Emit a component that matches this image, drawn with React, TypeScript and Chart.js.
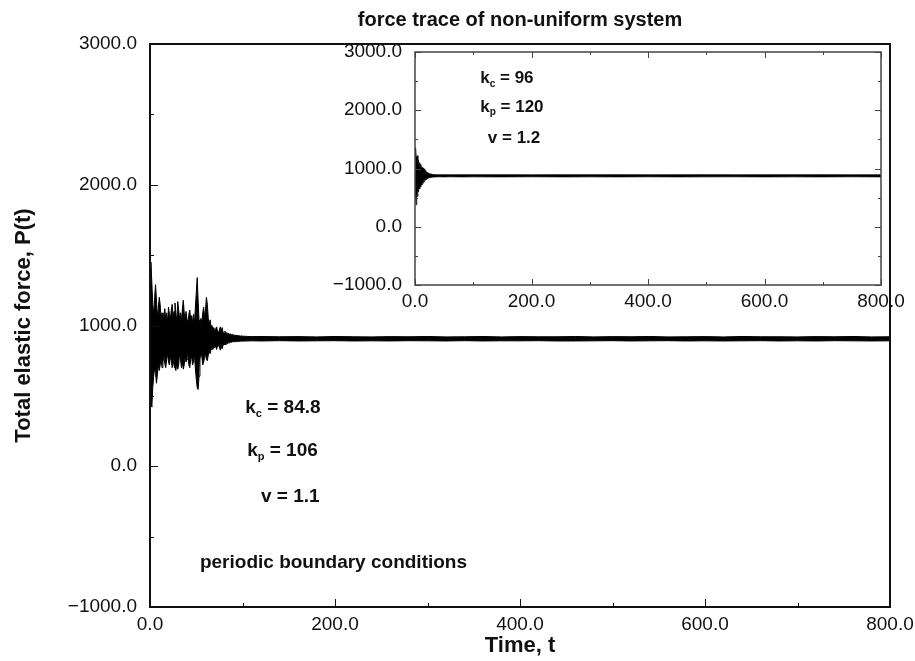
import React, { useEffect, useRef } from "react";
import { Chart, registerables } from "chart.js";

Chart.register(...registerables);

// ---------------- data ----------------
const mainTime = [
  0, 1, 2, 3, 4, 5, 6, 7, 8, 9, 10, 11, 12, 13, 14, 15, 16, 17, 18, 19, 20,
  21, 22, 23, 24, 25, 26, 27, 28, 29, 30, 31, 32, 33, 34, 35, 36, 37, 38, 39, 40,
  41, 42, 43, 44, 45, 46, 47, 48, 49, 50, 51, 52, 53, 54, 55, 56, 57, 58, 59, 60,
  61, 62, 63, 64, 65, 66, 67, 68, 69, 70, 71, 72, 73, 74, 75, 76, 77, 78, 79, 80,
  81, 82, 83, 84, 85, 86, 87, 88, 89, 90, 91, 92, 93, 94, 95, 96, 97, 98, 99, 100,
  110, 120, 140, 160, 180, 200, 220, 240, 260, 280, 300, 320, 340, 360, 380, 400,
  420, 440, 460, 480, 500, 520, 540, 560, 580, 600, 620, 640, 660, 680, 700, 720,
  740, 760, 780, 800,
];
// upper envelope of the main force trace P(t)
const mainUpper = [
  1100, 1450, 1300, 1150, 1080, 1200, 1290, 1180, 1060, 1120, 1200,
  1150, 1050, 1090, 1010, 1070, 1120, 1040, 1090, 1020, 1130,
  1080, 1040, 1110, 1150, 1060, 1100, 1160, 1080, 1040, 1170,
  1110, 1050, 1090, 1030, 1120, 1180, 1090, 1050, 1100, 1040,
  1010, 1080, 1110, 1040, 1070, 1020, 1080, 1010, 1120, 1230,
  1340, 1180, 1040, 1000, 1050, 1020, 1090, 1130, 1060, 1110,
  1200, 1150, 1050, 1010, 1040, 990, 1000, 970, 985, 960,
  975, 990, 960, 945, 970, 990, 960, 985, 950, 945,
  960, 940, 950, 938, 945, 935, 942, 932, 938, 930,
  935, 928, 932, 926, 930, 925, 928, 924, 927, 924,
  921, 922, 920, 921, 919, 922, 920, 919, 921, 920, 922, 919, 920, 922, 919, 921,
  920, 920, 922, 919, 921, 920, 922, 919, 920, 921, 919, 922, 920, 920, 919, 921,
  920, 922, 919, 920,
];
// lower envelope of the main force trace P(t)
const mainLower = [
  880, 480, 420, 560, 640, 700, 660, 590, 650, 720, 680,
  720, 760, 700, 740, 790, 730, 700, 760, 800, 740,
  720, 780, 750, 700, 720, 770, 700, 680, 740, 690,
  720, 800, 760, 700, 740, 690, 720, 780, 740, 760,
  800, 720, 700, 760, 780, 720, 740, 800, 700, 620,
  560, 545, 640, 760, 800, 780, 720, 740, 770, 800,
  760, 750, 790, 820, 800, 830, 840, 830, 850, 840,
  860, 830, 855, 860, 845, 825, 850, 835, 860, 865,
  870, 862, 875, 870, 880, 876, 882, 880, 884, 885,
  884, 887, 885, 888, 886, 888, 887, 889, 888, 889,
  891, 890, 892, 890, 891, 892, 890, 891, 890, 892, 891, 890, 892, 890, 891, 891,
  892, 890, 890, 891, 892, 890, 891, 892, 890, 891, 890, 891, 892, 890, 891, 890,
  892, 891, 890, 891,
];

const insetTime = [
  0, 1, 2, 3, 4, 5, 6, 7, 8, 9, 10, 11, 12, 13, 14, 15, 16, 17, 18, 19, 20,
  21, 22, 23, 24, 25, 26, 27, 28, 29, 30,
  35, 40, 50, 60, 80, 100, 150, 200, 250, 300, 350, 400, 450, 500, 550, 600,
  650, 700, 750, 800,
];
const insetUpper = [
  1000, 1355, 1200, 1150, 1220, 1120, 1140, 1060, 1100, 1040, 1070,
  1010, 1030, 990, 1010, 970, 985, 950, 965, 935, 945,
  925, 932, 915, 920, 905, 910, 900, 903, 897, 898,
  893, 892, 893, 891, 893, 892, 893, 891, 893, 892, 893, 891, 892, 893, 891, 892,
  892, 893, 891, 892,
];
const insetLower = [
  800, 500, 377, 560, 520, 630, 600, 680, 650, 710, 690,
  740, 720, 770, 750, 790, 780, 805, 800, 820, 815,
  830, 828, 838, 836, 845, 843, 850, 848, 853, 852,
  856, 857, 856, 858, 856, 857, 856, 858, 856, 857, 856, 858, 856, 857, 858, 856,
  857, 856, 858, 856,
];

const yMajorStep = 1000;
const xMajorStep = 200;
const yMinorTicks = [-500, 500, 1500, 2500];
const xMinorTicks = [100, 300, 500, 700];

// ---------------- styling ----------------
const FAMILY = "'Liberation Sans', Arial, Helvetica, sans-serif";
const INK = "#111";

const fmt = (v: number | string) => {
  const n = Number(v);
  return (n < 0 ? "\u2212" : "") + Math.abs(n).toFixed(1);
};

type Note = { t: number; v: number; base: string; sub?: string; rest: string };

const mainNotes: Note[] = [
  { t: 103, v: 412, base: "k", sub: "c", rest: " = 84.8" },
  { t: 105, v: 107, base: "k", sub: "p", rest: " = 106" },
  { t: 120, v: -220, base: "v", rest: " = 1.1" },
  { t: 54, v: -689, base: "periodic boundary conditions", rest: "" },
];
const insetNotes: Note[] = [
  { t: 112, v: 2540, base: "k", sub: "c", rest: " = 96" },
  { t: 112, v: 2058, base: "k", sub: "p", rest: " = 120" },
  { t: 125, v: 1510, base: "v", rest: " = 1.2" },
];

function drawNote(ctx: CanvasRenderingContext2D, x: number, y: number, n: Note, size: number) {
  ctx.textBaseline = "middle";
  ctx.textAlign = "left";
  ctx.fillStyle = INK;
  ctx.font = `bold ${size}px ${FAMILY}`;
  ctx.fillText(n.base, x, y);
  let cx = x + ctx.measureText(n.base).width;
  if (n.sub) {
    const ss = Math.round(size * 0.6);
    ctx.font = `bold ${ss}px ${FAMILY}`;
    ctx.fillText(n.sub, cx, y + size * 0.32);
    cx += ctx.measureText(n.sub).width;
    ctx.font = `bold ${size}px ${FAMILY}`;
  }
  if (n.rest) ctx.fillText(n.rest, cx, y);
}

function makeDecor(opts: {
  frameWidth: number;
  frameColor: string;
  major: number;
  minor: number;
  mirror: boolean;
  notes: Note[];
  noteSize: number;
  title?: string;
}) {
  return {
    id: "decor",
    beforeDraw(chart: any) {
      const { ctx, chartArea } = chart;
      ctx.save();
      ctx.fillStyle = "#fff";
      ctx.fillRect(chartArea.left, chartArea.top, chartArea.right - chartArea.left, chartArea.bottom - chartArea.top);
      ctx.restore();
    },
    afterDraw(chart: any) {
      const { ctx, chartArea } = chart;
      const { left, right, top, bottom } = chartArea;
      const xs = chart.scales.x;
      const ys = chart.scales.y;
      ctx.save();
      ctx.strokeStyle = opts.frameColor;
      ctx.lineWidth = 1;
      ctx.beginPath();
      const xMaj = xs.ticks.map((t: any) => t.value);
      const yMaj = ys.ticks.map((t: any) => t.value);
      const hTick = (v: number, len: number) => {
        const px = Math.round(xs.getPixelForValue(v)) + 0.5;
        ctx.moveTo(px, bottom);
        ctx.lineTo(px, bottom - len);
        if (opts.mirror) {
          ctx.moveTo(px, top);
          ctx.lineTo(px, top + len);
        }
      };
      const vTick = (v: number, len: number) => {
        const py = Math.round(ys.getPixelForValue(v)) + 0.5;
        ctx.moveTo(left, py);
        ctx.lineTo(left + len, py);
        if (opts.mirror) {
          ctx.moveTo(right, py);
          ctx.lineTo(right - len, py);
        }
      };
      xMaj.forEach((v: number) => hTick(v, opts.major));
      xMinorTicks.forEach((v) => hTick(v, opts.minor));
      yMaj.forEach((v: number) => vTick(v, opts.major));
      yMinorTicks.forEach((v) => vTick(v, opts.minor));
      ctx.stroke();
      ctx.lineWidth = opts.frameWidth;
      ctx.strokeRect(left, top, right - left, bottom - top);
      opts.notes.forEach((n) => {
        drawNote(ctx, xs.getPixelForValue(n.t), ys.getPixelForValue(n.v), n, opts.noteSize);
      });
      if (opts.title) {
        ctx.fillStyle = INK;
        ctx.font = `bold 20px ${FAMILY}`;
        ctx.textAlign = "center";
        ctx.textBaseline = "middle";
        ctx.fillText(opts.title, (left + right) / 2, 20);
      }
      ctx.restore();
    },
  };
}

function bandDatasets(time: number[], upper: number[], lower: number[], width: number) {
  return [
    {
      data: time.map((t, i) => ({ x: t, y: upper[i] })),
      borderColor: "#000",
      backgroundColor: "#000",
      borderWidth: width,
      pointRadius: 0,
      fill: "+1",
      tension: 0,
    },
    {
      data: time.map((t, i) => ({ x: t, y: lower[i] })),
      borderColor: "#000",
      backgroundColor: "#000",
      borderWidth: width,
      pointRadius: 0,
      fill: false,
      tension: 0,
    },
  ];
}

function scales(opts: {
  yWidth: number;
  xHeight: number;
  xPad: number;
  titles: boolean;
}) {
  const tickFont = { family: FAMILY, size: 19 };
  return {
    x: {
      type: "linear" as const,
      min: 0,
      max: 800,
      grid: { display: false, drawTicks: false },
      border: { display: false },
      ticks: {
        stepSize: xMajorStep,
        font: tickFont,
        color: INK,
        padding: opts.xPad,
        maxRotation: 0,
        minRotation: 0,
        callback: (v: any) => fmt(v),
      },
      title: {
        display: opts.titles,
        text: "Time, t",
        color: INK,
        font: { family: FAMILY, size: 22, weight: "bold" as const },
        padding: { top: 0, bottom: 2 },
      },
      afterFit: (s: any) => {
        s.height = opts.xHeight;
        s.paddingLeft = 0;
        s.paddingRight = 0;
      },
    },
    y: {
      type: "linear" as const,
      min: -1000,
      max: 3000,
      grid: { display: false, drawTicks: false },
      border: { display: false },
      ticks: {
        stepSize: yMajorStep,
        font: tickFont,
        color: INK,
        padding: 13,
        callback: (v: any) => fmt(v),
      },
      title: {
        display: opts.titles,
        text: "Total elastic force, P(t)",
        color: INK,
        font: { family: FAMILY, size: 22, weight: "bold" as const },
        padding: { top: 11, bottom: 0 },
      },
      afterFit: (s: any) => {
        s.width = opts.yWidth;
        s.paddingTop = 0;
        s.paddingBottom = 0;
      },
    },
  };
}

export default function App() {
  const mainRef = useRef<HTMLCanvasElement>(null);
  const insetRef = useRef<HTMLCanvasElement>(null);

  useEffect(() => {
    const main = new Chart(mainRef.current as HTMLCanvasElement, {
      type: "line",
      data: { datasets: bandDatasets(mainTime, mainUpper, mainLower, 1) as any },
      options: {
        responsive: false,
        animation: false,
        devicePixelRatio: 1,
        layout: { padding: { left: 0, right: 25, top: 44, bottom: 0 } },
        plugins: { legend: { display: false }, tooltip: { enabled: false } },
        scales: scales({ yWidth: 150, xHeight: 54, xPad: 6, titles: true }) as any,
      },
      plugins: [
        makeDecor({
          frameWidth: 2,
          frameColor: "#111",
          major: 8,
          minor: 4,
          mirror: false,
          notes: mainNotes,
          noteSize: 19,
          title: "force trace of non-uniform system",
        }),
      ],
    });
    const inset = new Chart(insetRef.current as HTMLCanvasElement, {
      type: "line",
      data: { datasets: bandDatasets(insetTime, insetUpper, insetLower, 0.8) as any },
      options: {
        responsive: false,
        animation: false,
        devicePixelRatio: 1,
        layout: { padding: { left: 0, right: 34, top: 22, bottom: 0 } },
        plugins: { legend: { display: false }, tooltip: { enabled: false } },
        scales: scales({ yWidth: 90, xHeight: 45, xPad: 5, titles: false }) as any,
      },
      plugins: [
        makeDecor({
          frameWidth: 1.5,
          frameColor: "#444",
          major: 6,
          minor: 3,
          mirror: true,
          notes: insetNotes,
          noteSize: 17,
        }),
      ],
    });
    return () => {
      main.destroy();
      inset.destroy();
    };
  }, []);

  return (
    <div style={{ position: "fixed", left: 0, top: 0, width: 915, height: 661, background: "#fff" }}>
      <canvas ref={mainRef} width={915} height={661} style={{ position: "absolute", left: 0, top: 0 }} />
      <canvas ref={insetRef} width={590} height={300} style={{ position: "absolute", left: 325, top: 30 }} />
    </div>
  );
}
